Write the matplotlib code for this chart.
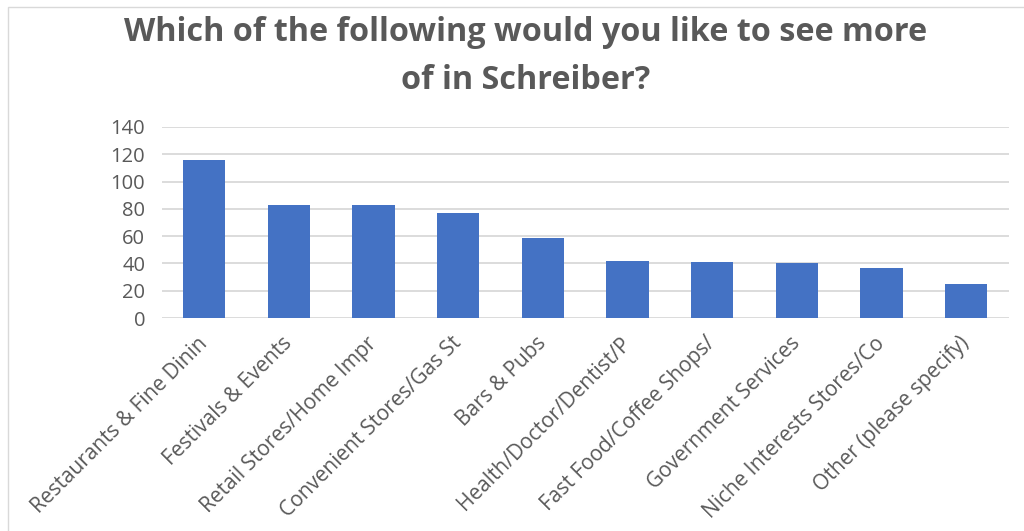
import numpy as np
import matplotlib as mpl
mpl.use('Agg')
from matplotlib import pyplot as plt
from matplotlib.patches import Rectangle

categories = ['Restaurants & Fine Dinin', 'Festivals & Events', 'Retail Stores/Home Impr',
              'Convenient Stores/Gas St', 'Bars & Pubs', 'Health/Doctor/Dentist/P',
              'Fast Food/Coffee Shops/', 'Government Services', 'Niche Interests Stores/Co',
              'Other (please specify)']
counts = [116, 83, 83, 77, 59, 42, 41, 40, 37, 25]
yticks = [0, 20, 40, 60, 80, 100, 120, 140]

grey = '#595959'
plt.rcParams['font.family'] = ['Open Sans', 'DejaVu Sans']

fig = plt.figure(figsize=(10.24, 5.31), dpi=100)
ax = fig.add_axes([0.158, 0.401, 0.827, 0.360])

x = np.arange(len(categories))
ax.bar(x, counts, width=0.5, color='#4472C4', zorder=3)

ax.set_xlim(-0.5, len(categories) - 0.5)
ax.set_ylim(0, 140)
ax.set_yticks(yticks)
ax.set_yticklabels([str(v) for v in yticks], fontsize=14.5, color=grey)
ax.set_xticks(x)
ax.set_xticklabels(categories, rotation=45, ha='right', va='center',
                   rotation_mode='anchor', fontsize=15, color=grey)
ax.tick_params(axis='both', length=0)
ax.tick_params(axis='x', pad=16)
ax.tick_params(axis='y', pad=12)
ax.grid(axis='y', color='#d9d9d9', linewidth=1.3, zorder=0)
for s in ax.spines.values():
    s.set_visible(False)

fig.text(0.513, 0.893, 'Which of the following would you like to see more\nof in Schreiber?',
         ha='center', va='center', fontsize=23.3, fontweight='bold', color=grey,
         linespacing=1.6)

# chart frame
fig.patches.append(Rectangle((8 / 1024, -0.1), 1.2, 1 - 7 / 531 + 0.1,
                             transform=fig.transFigure, fill=False,
                             edgecolor='#d9d9d9', linewidth=1))

plt.savefig('out.png', dpi=100)
